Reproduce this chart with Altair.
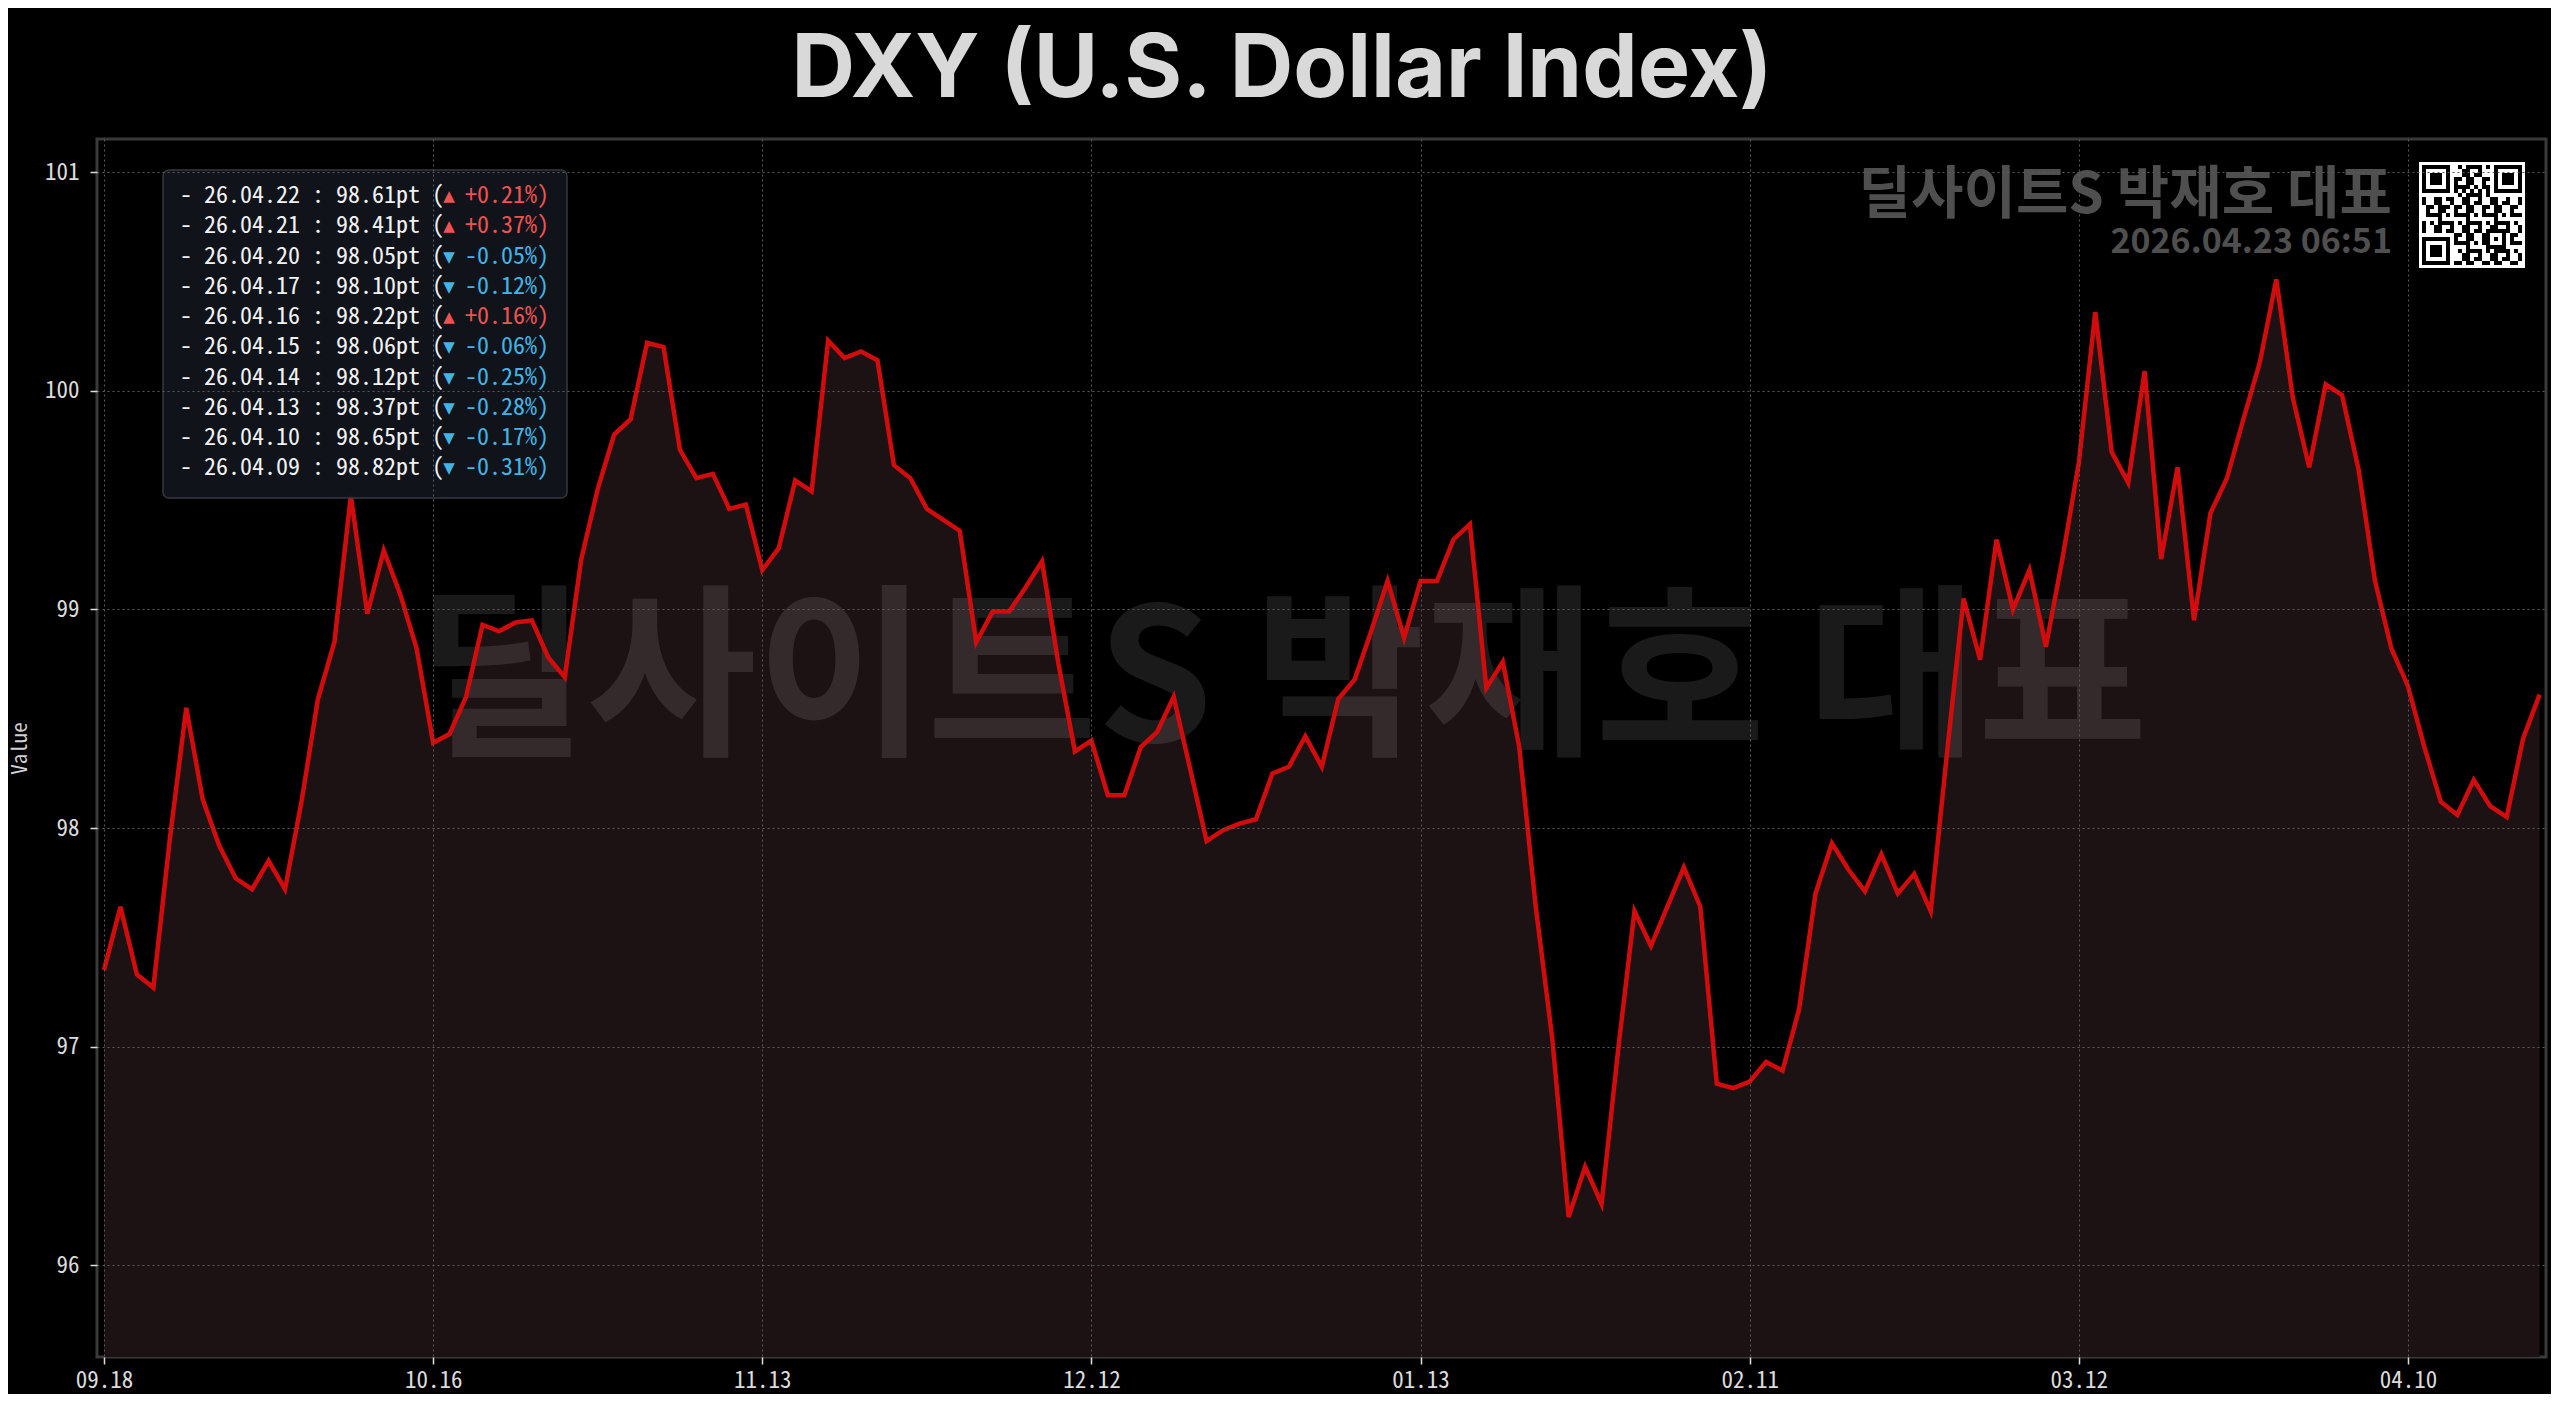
import altair as alt
import pandas as pd

# ---------------- data ----------------
values = [
    97.35, 97.64, 97.33, 97.27, 97.95, 98.55, 98.13, 97.92, 97.77, 97.72,
    97.85, 97.72, 98.12, 98.59, 98.85, 99.52, 98.98, 99.27, 99.07, 98.82,
    98.39, 98.43, 98.60, 98.93, 98.90, 98.94, 98.95, 98.78, 98.69, 99.23,
    99.55, 99.80, 99.87, 100.22, 100.20, 99.73, 99.60, 99.62, 99.46, 99.48,
    99.18, 99.28, 99.59, 99.54, 100.23, 100.15, 100.18, 100.14, 99.66, 99.60,
    99.46, 99.41, 99.36, 98.85, 98.99, 98.99, 99.10, 99.22, 98.75, 98.35,
    98.40, 98.15, 98.15, 98.37, 98.44, 98.60, 98.27, 97.94, 97.99, 98.02,
    98.04, 98.25, 98.28, 98.42, 98.28, 98.59, 98.68, 98.90, 99.13, 98.87,
    99.13, 99.13, 99.32, 99.39, 98.64, 98.76, 98.37, 97.64, 97.04, 96.22,
    96.45, 96.28, 96.98, 97.62, 97.46, 97.64, 97.82, 97.64, 96.83, 96.81,
    96.84, 96.93, 96.89, 97.17, 97.70, 97.93, 97.81, 97.71, 97.88, 97.70,
    97.79, 97.62, 98.35, 99.05, 98.77, 99.32, 99.00, 99.18, 98.83, 99.23,
    99.67, 100.36, 99.72, 99.58, 100.09, 99.23, 99.65, 98.95, 99.44, 99.60,
    99.87, 100.13, 100.51, 99.97, 99.65, 100.03, 99.98, 99.64, 99.13, 98.82,
    98.65, 98.37, 98.12, 98.06, 98.22, 98.10, 98.05, 98.41, 98.61,
]
tick_labels = ["09.18", "10.16", "11.13", "12.12", "01.13", "02.11", "03.12", "04.10"]
y_ticks = [96, 97, 98, 99, 100, 101]

legend_dates = ["26.04.22", "26.04.21", "26.04.20", "26.04.17", "26.04.16",
                "26.04.15", "26.04.14", "26.04.13", "26.04.10", "26.04.09"]
legend_vals = [98.61, 98.41, 98.05, 98.10, 98.22, 98.06, 98.12, 98.37, 98.65, 98.82]
legend_pcts = [0.21, 0.37, -0.05, -0.12, 0.16, -0.06, -0.25, -0.28, -0.17, -0.31]

title_text = "DXY (U.S. Dollar Index)"
watermark = "딜사이트S 박재호 대표"
stamp = "2026.04.23 06:51"

# ---------------- layout / style ----------------
W, H = 2449, 1218
Y_MIN, Y_MAX = 95.58, 101.152
MONO = "Noto Sans Mono CJK KR, DejaVu Sans Mono, monospace"
KR = "Noto Sans CJK KR, Noto Sans, sans-serif"
UP, DOWN = "#f05252", "#42b4e6"
TICK_STEP = 20

df = pd.DataFrame({"idx": list(range(len(values))), "val": values})

label_expr = "[" + ",".join(f"'{t}'" for t in tick_labels) + f"][round(datum.value/{TICK_STEP})]"
x_scale = alt.Scale(domain=[-0.425, 148.39], nice=False, zero=False)
y_scale = alt.Scale(domain=[Y_MIN, Y_MAX], nice=False, zero=False)
x_enc = alt.X(
    "idx:Q", scale=x_scale,
    axis=alt.Axis(values=[TICK_STEP * i for i in range(len(tick_labels))],
                  labelExpr=label_expr, title=None, labelPadding=5,
                  labelOverlap=False, labelFlush=False, labelBound=False,
                  labelBaseline="top", labelAlign="center", zindex=2),
)
y_enc = alt.Y(
    "val:Q", scale=y_scale,
    axis=alt.Axis(values=y_ticks, title="Value", labelPadding=11, zindex=2,
                  titleX=-77, titleY=609, titleAngle=270,
                  titleAlign="center", titleBaseline="middle",
                  titleFont=MONO, titleFontSize=21, titleFontWeight="normal",
                  titleColor="#d0d0d0"),
)

base = alt.Chart(df)
area = base.mark_area(color="#1d1213").encode(x=x_enc, y=y_enc, y2=alt.datum(Y_MIN))
line = base.mark_line(color="#d20c0c", strokeWidth=4.5).encode(x=x_enc, y=y_enc)

one = pd.DataFrame({"t": [watermark]})
title_mark = alt.Chart(pd.DataFrame({"t": [title_text]})).mark_text(
    font="Inter", fontSize=88, fontWeight="bold", color="#d9d9d9",
    align="center", baseline="alphabetic",
).encode(text="t:N", x=alt.value(1185), y=alt.value(-42))

big_wm = alt.Chart(one).mark_text(
    font=KR, fontSize=185, fontWeight="bold", color="#ffffff", opacity=0.1,
    align="center", baseline="middle",
).encode(text="t:N", x=alt.value(1185), y=alt.value(546))

box = alt.Chart(pd.DataFrame({"a": [0]})).mark_rect(
    fill="#12161c", stroke="#3a3e44", strokeWidth=1.5, cornerRadius=6, opacity=0.93,
).encode(x=alt.value(66), x2=alt.value(470), y=alt.value(31), y2=alt.value(359))

leg = pd.DataFrame({
    "left": [f"- {d} : {v:.2f}pt (" for d, v in zip(legend_dates, legend_vals)],
    "tri": ["▲" if p > 0 else "▼" for p in legend_pcts],
    "right": [f"{p:+.2f}%)" for p in legend_pcts],
    "col": [UP if p > 0 else DOWN for p in legend_pcts],
    "py": [57 + 30.25 * i for i in range(len(legend_dates))],
})
ly = alt.Y("py:Q", scale=None, axis=None)
leg_left = alt.Chart(leg).mark_text(
    font=MONO, fontSize=24, color="#f2f2f2", align="left", baseline="middle",
).encode(text="left:N", x=alt.value(83), y=ly)
leg_tri = alt.Chart(leg).mark_text(
    font="DejaVu Sans", fontSize=15, align="center", baseline="middle",
).encode(text="tri:N", x=alt.value(352), y=ly,
         color=alt.Color("col:N", scale=None, legend=None))
leg_right = alt.Chart(leg).mark_text(
    font=MONO, fontSize=24, align="right", baseline="middle",
).encode(text="right:N", x=alt.value(452), y=ly,
         color=alt.Color("col:N", scale=None, legend=None))

tr_name = alt.Chart(one).mark_text(
    font=KR, fontSize=57, fontWeight="bold", color="#4f4f4f", align="right", baseline="middle",
).encode(text="t:N", x=alt.value(2295), y=alt.value(57))
tr_time = alt.Chart(pd.DataFrame({"t": [stamp]})).mark_text(
    font=KR, fontSize=34, fontWeight="bold", color="#4f4f4f", align="right", baseline="middle",
).encode(text="t:N", x=alt.value(2295), y=alt.value(104))

# QR-like badge (decoration)
QX, QY, QS, N, M = 2322, 23, 106, 25, 4


def dark(r, c):
    for r0, c0 in ((0, 0), (0, N - 7), (N - 7, 0)):
        rr, cc = r - r0, c - c0
        if -1 <= rr <= 7 and -1 <= cc <= 7:
            if 0 <= rr < 7 and 0 <= cc < 7:
                return rr in (0, 6) or cc in (0, 6) or (2 <= rr <= 4 and 2 <= cc <= 4)
            return False
    if r == 6:
        return c % 2 == 0
    if c == 6:
        return r % 2 == 0
    dr, dc = abs(r - 18), abs(c - 18)
    if dr <= 2 and dc <= 2:
        return max(dr, dc) in (0, 2)
    return ((r * r * 7 + c * c * 3 + r * c * 5 + r + 2 * c) % 7) < 3


cells = [(r, c) for r in range(N) for c in range(N) if dark(r, c)]
qdf = pd.DataFrame({
    "x0": [QX + 3 + c * M for r, c in cells],
    "x1": [QX + 3 + (c + 1) * M for r, c in cells],
    "y0": [QY + 3 + r * M for r, c in cells],
    "y1": [QY + 3 + (r + 1) * M for r, c in cells],
})
qr_bg = alt.Chart(pd.DataFrame({"a": [0]})).mark_rect(fill="#ffffff").encode(
    x=alt.value(QX), x2=alt.value(QX + QS), y=alt.value(QY), y2=alt.value(QY + QS))
qr = alt.Chart(qdf).mark_rect(fill="#000000").encode(
    x=alt.X("x0:Q", scale=None, axis=None), x2="x1:Q",
    y=alt.Y("y0:Q", scale=None, axis=None), y2="y1:Q")

chart = alt.layer(
    area, big_wm, line, box, leg_left, leg_tri, leg_right,
    tr_name, tr_time, qr_bg, qr, title_mark,
).properties(
    width=W, height=H,
    padding={"left": 89, "top": 131, "right": 5, "bottom": 37},
    autosize=alt.AutoSizeParams(type="none"),
).configure(
    background="#000000",
).configure_view(
    stroke="#3a3a3a", strokeWidth=3,
).configure_axis(
    domain=False, labelColor="#dcdcdc", labelFont=MONO, labelFontSize=23,
    tickColor="#dcdcdc", tickSize=7, tickWidth=1.5,
    gridColor="#5a5a5a", gridDash=[2, 3], gridWidth=1,
)

chart.save("out.html", embed_options={"renderer": "svg", "actions": False})
